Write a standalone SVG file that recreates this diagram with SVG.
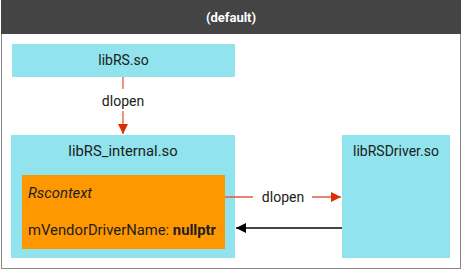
<svg xmlns="http://www.w3.org/2000/svg" width="462" height="270" viewBox="0 0 462 270">
<defs>
<style>
text{font-family:Roboto,"Liberation Sans",sans-serif;font-size:14px;fill:#202020}
.box{fill:#91e3ed}
.lbl{text-anchor:middle}
.big{font-size:14.8px}
</style>
<marker id="redHead" viewBox="0 0 10 10" refX="10" refY="5" markerWidth="10" markerHeight="10" markerUnits="userSpaceOnUse" orient="auto">
<path d="M0,0 L10,5 L0,10 z" fill="#dd2c00"/>
</marker>
<marker id="blkHead" viewBox="0 0 10 10" refX="10" refY="5" markerWidth="10" markerHeight="10" markerUnits="userSpaceOnUse" orient="auto">
<path d="M0,0 L10,5 L0,10 z" fill="#000"/>
</marker>
</defs>
<rect x="1.5" y="0.5" width="459" height="268" fill="#fff" stroke="#888" stroke-width="1"/>
<g id="header">
<rect x="1" y="0" width="460" height="34" fill="#444"/>
<text x="231" y="22" text-anchor="middle" style="fill:#fff;font-weight:bold;font-size:13px">(default)</text>
</g>
<g id="libRS">
<rect class="box" x="12" y="44" width="223" height="33"/>
<text class="lbl" x="123.5" y="65">libRS.so</text>
</g>
<g id="libRS_internal">
<rect class="box" x="11" y="135" width="224" height="123"/>
<text class="lbl big" x="123" y="156">libRS_internal.so</text>
</g>
<g id="rscontext">
<rect x="22" y="175" width="203" height="74" fill="#ff9800"/>
<text class="big" x="28" y="198" style="font-style:italic">Rscontext</text>
<text class="big" x="28" y="235">mVendorDriverName: <tspan style="font-weight:bold">nullptr</tspan></text>
</g>
<g id="libRSDriver">
<rect class="box" x="342" y="135" width="108" height="123"/>
<text class="lbl" x="396" y="156">libRSDriver.so</text>
</g>
<g id="connectors">
<line x1="123" y1="77" x2="123" y2="89" stroke="#dd2c00" stroke-width="1"/>
<text class="lbl" x="123" y="106">dlopen</text>
<line x1="123" y1="111" x2="123" y2="134" stroke="#dd2c00" stroke-width="1" marker-end="url(#redHead)"/>
<line x1="225" y1="197" x2="253" y2="197" stroke="#e05a48" stroke-width="1.5"/>
<text class="lbl" x="283" y="202">dlopen</text>
<line x1="312" y1="197" x2="341" y2="197" stroke="#e05a48" stroke-width="1.5" marker-end="url(#redHead)"/>
<line x1="342" y1="228" x2="236" y2="228" stroke="#444" stroke-width="2" marker-end="url(#blkHead)"/>
</g>
</svg>
